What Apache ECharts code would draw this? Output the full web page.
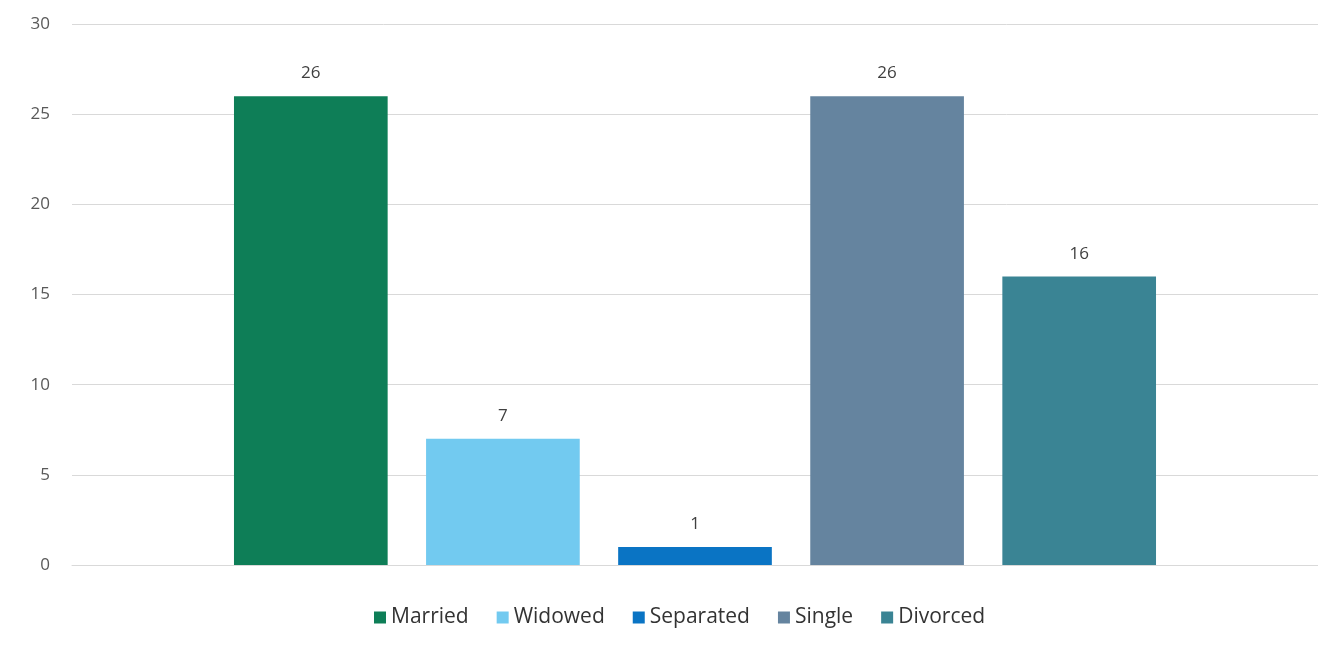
<!DOCTYPE html>
<html><head><meta charset="utf-8">
<script src="https://cdn.jsdelivr.net/npm/echarts@6/dist/echarts.min.js"></script>
<style>html,body{margin:0;padding:0;background:#fff}#c{width:1318px;height:654px}</style>
</head><body><div id="c"></div>
<script>
const categories = ['Status'];
const seriesNames = ['Married', 'Widowed', 'Separated', 'Single', 'Divorced'];
const seriesValues = [26, 7, 1, 26, 16];
const seriesColors = ['#0e7e57', '#72caf0', '#0a74c4', '#65849f', '#3a8494'];
const yTicks = { min: 0, max: 30, interval: 5 };

const chart = echarts.init(document.getElementById('c'));
chart.setOption({
  backgroundColor: '#fff',
  animation: false,
  grid: { left: 72, right: 0, top: 24, bottom: 89 },
  legend: {
    bottom: 21, left: 369,
    itemWidth: 12, itemHeight: 12, itemGap: 28,
    icon: 'rect',
    textStyle: { fontFamily: 'Open Sans', fontSize: 21, color: '#333333' },
    data: seriesNames
  },
  xAxis: {
    type: 'category', data: categories,
    axisLine: { lineStyle: { color: '#d9d9d9' } },
    axisTick: { show: false }, axisLabel: { show: false }
  },
  yAxis: {
    type: 'value', min: yTicks.min, max: yTicks.max, interval: yTicks.interval,
    axisLine: { show: false }, axisTick: { show: false },
    axisLabel: { color: '#595959', fontSize: 17, fontFamily: 'Open Sans', margin: 22 },
    splitLine: { lineStyle: { color: '#d9d9d9' } }
  },
  series: seriesNames.map((n, i) => ({
    name: n, type: 'bar',
    data: [seriesValues[i]],
    itemStyle: { color: seriesColors[i] },
    barGap: '25%', barCategoryGap: '26%',
    label: { show: true, position: 'top', distance: 14, color: '#404040', fontSize: 17, fontFamily: 'Open Sans' }
  }))
});
</script></body></html>
